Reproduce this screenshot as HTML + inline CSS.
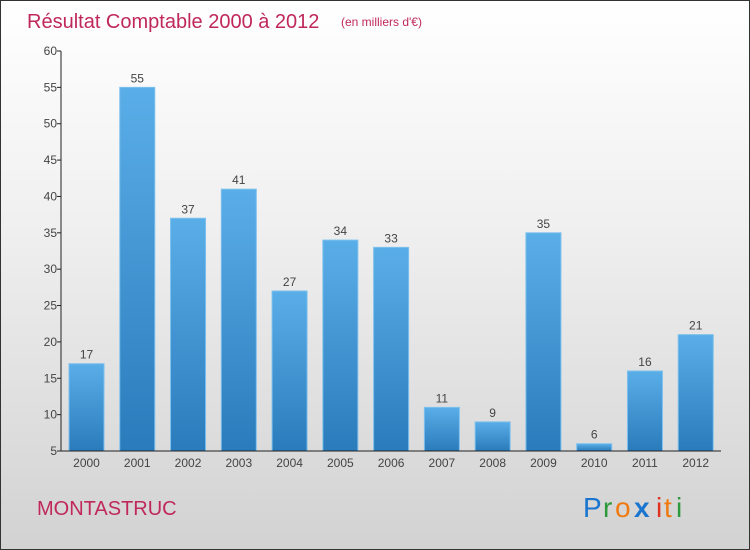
<!DOCTYPE html>
<html><head><meta charset="utf-8"><style>
body{margin:0}
#c{width:750px;height:550px;position:relative;overflow:hidden;box-sizing:border-box;border:1px solid #333;background:linear-gradient(#ffffff 0%,#f0f0f0 40%,#d2d2d2 100%);font-family:"Liberation Sans",sans-serif}
</style></head><body>
<div id="c">
<svg id="s" width="750" height="550">
<defs><linearGradient id="g" x1="0" y1="0" x2="0" y2="1"><stop offset="0" stop-color="#5aaee8"/><stop offset="1" stop-color="#2a7bbb"/></linearGradient></defs>
<text x="26" y="27" font-size="20" fill="#c0285a">Résultat Comptable 2000 à 2012</text>
<text x="340" y="25" font-size="12" fill="#c0285a">(en milliers d'€)</text>
<text x="36" y="514" font-size="20" fill="#c0285a">MONTASTRUC</text>
<g font-size="28">
<text x="582" y="516" fill="#1a75cf">P</text><text x="602" y="516" fill="#2a9a3a">r</text><text x="614" y="516" fill="#f07a10">o</text><text x="633" y="516" fill="#1a75cf" font-weight="bold">x</text><text x="655" y="516" fill="#e03020">i</text><text x="663" y="516" fill="#f07a10">t</text><text x="675" y="516" fill="#2a9a3a">i</text>
</g>
</svg>
<script>
const years=["2000","2001","2002","2003","2004","2005","2006","2007","2008","2009","2010","2011","2012"];
const values=[17,55,37,41,27,34,33,11,9,35,6,16,21];
const ticks=[5,10,15,20,25,30,35,40,45,50,55,60];
const s=document.getElementById('s');const NS='http://www.w3.org/2000/svg';
const x0=60,x1=720,yMin=5,yMax=60,yTop=50,yBot=450;
const y=v=>yBot-(v-yMin)/(yMax-yMin)*(yBot-yTop);
const bw=(x1-x0)/years.length;
function el(t,a,p){const e=document.createElementNS(NS,t);for(const k in a)e.setAttribute(k,a[k]);(p||s).appendChild(e);return e;}
ticks.forEach(t=>{
 const l=el('line',{x1:x0-4,x2:x0,y1:y(t),y2:y(t),stroke:'#222'});
 
 
 const tx=el('text',{x:x0-4,y:y(t)+4,'text-anchor':'end','font-size':12,fill:'#444'});tx.textContent=t;
 
 
});
years.forEach((yr,i)=>{
 const bx=x0+i*bw+8,w=35;
 const r=el('rect',{x:bx,y:y(values[i]),width:w,height:yBot-y(values[i]),fill:'url(#g)',stroke:'#7cc0ee','stroke-width':1});
 
 
 const v=el('text',{x:bx+w/2,y:y(values[i])-5,'text-anchor':'middle','font-size':12,fill:'#444'});v.textContent=values[i];
 
 
 const xl=el('text',{x:bx+w/2,y:466,'text-anchor':'middle','font-size':12,fill:'#444'});xl.textContent=yr;
 
 
});
const ya=el('line',{x1:x0,x2:x0,y1:yTop,y2:yBot,stroke:'#222'});


const xa=el('line',{x1:x0,x2:x1,y1:yBot,y2:yBot,stroke:'#222'});


</script>
</div>
</body></html>
